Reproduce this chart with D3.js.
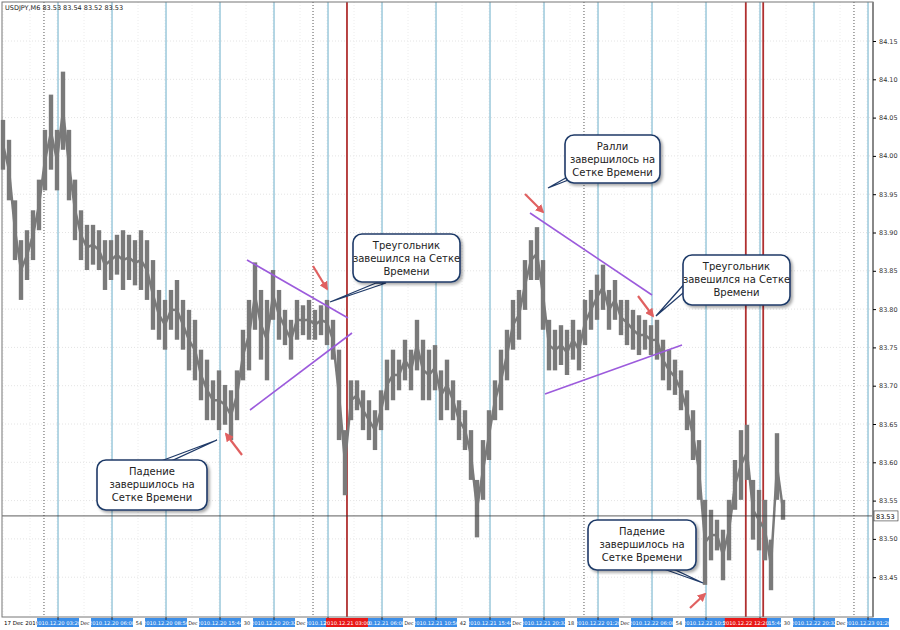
<!DOCTYPE html>
<html><head><meta charset="utf-8">
<script src="https://cdn.jsdelivr.net/npm/d3@7"></script>
<style>
body{margin:0;background:#fff;}
text{font-family:"DejaVu Sans",sans-serif;}
</style></head>
<body><svg id="chart" width="900" height="630"></svg>
<script>
// bar highs / lows, USDJPY M6
const highs = [84.047,84.021,83.942,83.890,83.903,83.929,83.969,84.034,84.080,84.034,84.110,84.034,83.969,83.929,83.910,83.910,83.903,83.890,83.890,83.897,83.903,83.897,83.890,83.903,83.890,83.864,83.825,83.812,83.825,83.838,83.812,83.799,83.786,83.747,83.734,83.707,83.720,83.701,83.694,83.720,83.773,83.812,83.861,83.825,83.812,83.851,83.825,83.799,83.786,83.812,83.805,83.812,83.799,83.805,83.812,83.786,83.747,83.642,83.707,83.707,83.694,83.681,83.668,83.694,83.734,83.747,83.734,83.760,83.747,83.786,83.760,83.747,83.753,83.720,83.734,83.707,83.681,83.668,83.642,83.577,83.629,83.668,83.707,83.747,83.773,83.812,83.825,83.864,83.890,83.907,83.864,83.786,83.773,83.779,83.773,83.786,83.773,83.812,83.825,83.845,83.858,83.825,83.838,83.812,83.812,83.799,83.792,83.786,83.779,83.786,83.760,83.747,83.734,83.720,83.694,83.668,83.629,83.551,83.538,83.525,83.512,83.551,83.603,83.642,83.649,83.577,83.564,83.551,83.499,83.638,83.551];
const lows  = [83.982,83.942,83.864,83.812,83.838,83.864,83.903,83.955,83.982,83.955,84.008,83.942,83.890,83.864,83.851,83.858,83.851,83.825,83.838,83.845,83.825,83.838,83.831,83.825,83.812,83.773,83.760,83.747,83.773,83.760,83.747,83.720,83.707,83.681,83.655,83.655,83.642,83.649,83.629,83.655,83.707,83.720,83.773,83.734,83.707,83.786,83.760,83.753,83.734,83.760,83.766,83.760,83.760,83.766,83.753,83.734,83.629,83.557,83.655,83.668,83.642,83.629,83.616,83.642,83.668,83.681,83.694,83.707,83.694,83.720,83.681,83.681,83.694,83.655,83.668,83.655,83.629,83.616,83.577,83.502,83.551,83.603,83.655,83.668,83.707,83.747,83.760,83.799,83.838,83.838,83.773,83.720,83.720,83.727,83.714,83.734,83.720,83.753,83.773,83.786,83.799,83.773,83.786,83.766,83.753,83.747,83.740,83.747,83.740,83.734,83.707,83.694,83.688,83.668,83.642,83.603,83.551,83.440,83.472,83.485,83.446,83.472,83.538,83.551,83.577,83.499,83.485,83.472,83.433,83.551,83.525];

const priceTicks = [84.15,84.10,84.05,84.00,83.95,83.90,83.85,83.80,83.75,83.70,83.65,83.60,83.55,83.50,83.45];
const timeLabels = ["2010.12.20 03:20","2010.12.20 06:08","2010.12.20 08:56","2010.12.20 15:44","2010.12.20 20:32",
  "2010.12.21 01:20","2010.12.21 06:08","2010.12.21 10:56","2010.12.21 15:44","2010.12.21 20:32",
  "2010.12.22 01:20","2010.12.22 06:08","2010.12.22 10:56","2010.12.22 15:44","2010.12.22 20:32","2010.12.23 01:20"];
const timeBars = [9.17,18.17,27.17,36.17,45.17,54.17,63.17,72.17,81.17,90.17,99.17,108.17,117.17,126.17,135.17,144.17];
const redBars = [57.33,123.8,126.7];
const redLabels = ["2010.12.21 03:00","2010.12.22 12:20"];
const daySepBars = [6.83,51.67,96.83,141.83];
const lastPrice = 83.53;

const callouts = [
  {lines:["Падение","завершилось на","Сетке Времени"], box:[97,460,110,50], tip:[[165,461],[217,440]]},
  {lines:["Треугольник","завешился на Сетке","Времени"], box:[353,234,107,48], tip:[[380,283],[330,302]]},
  {lines:["Ралли","завершилось на","Сетке Времени"], box:[565,135,95,48], tip:[[575,175],[548,188]]},
  {lines:["Треугольник","завешился на Сетке","Времени"], box:[683,255,107,50], tip:[[690,282],[656,316]]},
  {lines:["Падение","завершилось на","Сетке Времени"], box:[588,520,108,50], tip:[[665,568],[703,583]]}
];
// arrow: tail x,y then head x,y
const arrows = [[313,266,327,289],[242,455,226,434],[525,194,543,212],[638,296,653,316],[690,608,705,594]];
const trendLines = [[247,260,348,318],[250,410,352,333],[530,213,652,295],[545,394,682,345]];

const svg = d3.select("#chart");
const x = d3.scaleLinear().domain([0,145]).range([3,873]);
const y = d3.scaleLinear().domain([83.40,84.15]).range([615.5,41]);
const pLeft = 2, pRight = 873, pTop = 2, pBottom = 617;

// light dotted grid
svg.append("g").selectAll("line").data(priceTicks).join("line")
  .attr("x1",pLeft).attr("x2",pRight).attr("y1",d=>y(d)).attr("y2",d=>y(d))
  .attr("stroke","#e4e4e4").attr("stroke-dasharray","1,2");
svg.append("g").selectAll("line").data(d3.range(0,145,4.5)).join("line")
  .attr("x1",d=>x(d)).attr("x2",d=>x(d)).attr("y1",pTop).attr("y2",pBottom)
  .attr("stroke","#ececec").attr("stroke-dasharray","1,2");

// time grid lines
svg.append("g").selectAll("line").data(timeBars).join("line")
  .attr("x1",d=>x(d)).attr("x2",d=>x(d)).attr("y1",pTop).attr("y2",pBottom)
  .attr("stroke","#8cc0d6").attr("stroke-width",1.3);
svg.append("g").selectAll("line").data(daySepBars).join("line")
  .attr("x1",d=>x(d)).attr("x2",d=>x(d)).attr("y1",pTop).attr("y2",pBottom)
  .attr("stroke","#555").attr("stroke-dasharray","1,2");
svg.append("g").selectAll("line").data(redBars).join("line")
  .attr("x1",d=>x(d)).attr("x2",d=>x(d)).attr("y1",pTop).attr("y2",pBottom)
  .attr("stroke","#b03030").attr("stroke-width",1.8);

// price bars
const barGap = (d,i)=> i>0 ? Math.min(0, 0) : 0;
svg.append("g").selectAll("line").data(highs).join("line")
  .attr("x1",(d,i)=>x(i)).attr("x2",(d,i)=>x(i))
  .attr("y1",d=>y(d)).attr("y2",(d,i)=>y(lows[i]))
  .attr("stroke","#7a7a7a").attr("stroke-width",4.4);
// link neighbouring bars so the series reads continuously
svg.append("g").selectAll("line").data(highs.slice(1)).join("line")
  .attr("x1",(d,i)=>x(i)).attr("x2",(d,i)=>x(i+1))
  .attr("y1",(d,i)=>y((highs[i]+lows[i])/2)).attr("y2",(d,i)=>y((highs[i+1]+lows[i+1])/2))
  .attr("stroke","#7a7a7a").attr("stroke-width",2.5);

// last price line
svg.append("line").attr("x1",pLeft).attr("x2",pRight).attr("y1",y(lastPrice)).attr("y2",y(lastPrice))
  .attr("stroke","#333").attr("stroke-width",0.8);

// trend lines
svg.append("g").selectAll("line").data(trendLines).join("line")
  .attr("x1",d=>d[0]).attr("y1",d=>d[1]).attr("x2",d=>d[2]).attr("y2",d=>d[3])
  .attr("stroke","#9c5bdc").attr("stroke-width",1.6);

// red arrows
const defs = svg.append("defs");
defs.append("marker").attr("id","ah").attr("viewBox","0 0 10 10").attr("refX",8).attr("refY",5)
  .attr("markerWidth",4).attr("markerHeight",4).attr("orient","auto")
  .append("path").attr("d","M0,0L10,5L0,10z").attr("fill","#e06060");
defs.append("filter").attr("id","sh").append("feDropShadow")
  .attr("dx",2).attr("dy",2).attr("stdDeviation",1.5).attr("flood-color","#000").attr("flood-opacity",0.35);
svg.append("g").selectAll("line").data(arrows).join("line")
  .attr("x1",d=>d[0]).attr("y1",d=>d[1]).attr("x2",d=>d[2]).attr("y2",d=>d[3])
  .attr("stroke","#e06060").attr("stroke-width",2.2).attr("marker-end","url(#ah)");

// callouts
const cg = svg.append("g").selectAll("g").data(callouts).join("g");
cg.append("path").attr("d",d=>{
  const [a,b]=d.tip;
  return `M${a[0]-4},${a[1]}L${b[0]},${b[1]}L${a[0]+6},${a[1]}z`;
}).attr("fill","#fff").attr("stroke","#1f3a68").attr("stroke-width",1.3);
cg.append("rect").attr("x",d=>d.box[0]).attr("y",d=>d.box[1]).attr("width",d=>d.box[2]).attr("height",d=>d.box[3])
  .attr("rx",9).attr("fill","#fff").attr("stroke","#1f3a68").attr("stroke-width",1.6).attr("filter","url(#sh)");
cg.each(function(d){
  const g = d3.select(this);
  d.lines.forEach((t,k)=>g.append("text").attr("x",d.box[0]+d.box[2]/2).attr("y",d.box[1]+15+k*13)
    .attr("text-anchor","middle").attr("font-size",10).attr("fill","#222").text(t));
});

// frame and right axis
svg.append("rect").attr("x",pLeft).attr("y",pTop).attr("width",pRight-pLeft).attr("height",pBottom-pTop)
  .attr("fill","none").attr("stroke","#777").attr("stroke-width",1);
svg.append("line").attr("x1",pRight).attr("x2",pRight).attr("y1",pTop).attr("y2",pBottom).attr("stroke","#888").attr("stroke-width",2);
const ya = svg.append("g").attr("transform",`translate(${pRight},0)`)
  .call(d3.axisRight(y).tickValues(priceTicks).tickFormat(d3.format(".2f")).tickSize(3));
ya.select(".domain").remove();
ya.selectAll("text").attr("font-size",6.5).attr("fill","#333");
svg.append("rect").attr("x",pRight+1).attr("y",y(lastPrice)-5).attr("width",24).attr("height",10).attr("fill","#fff").attr("stroke","#333").attr("stroke-width",0.6);
svg.append("text").attr("x",pRight+3).attr("y",y(lastPrice)+3).attr("font-size",6.5).text("83.53");

// bottom axis
svg.append("text").attr("x",4).attr("y",625).attr("font-size",5.5).text("17 Dec 2010");
const underTicks = ["Dec","54","Dec","30","Dec","06","Dec","42","Dec","18","Dec","54","Dec","30","Dec"];
svg.append("g").selectAll("text").data(underTicks).join("text")
  .attr("x",(d,i)=>x(timeBars[i]+4.5)).attr("text-anchor","middle").attr("y",625).attr("font-size",5).attr("fill","#222").text(d=>d);
const tl = svg.append("g").selectAll("g").data(timeLabels).join("g")
  .attr("transform",(d,i)=>`translate(${x(timeBars[i])},618)`);
tl.append("rect").attr("x",-21).attr("y",0).attr("width",42).attr("height",9).attr("fill","#3b8ee8");
tl.append("text").attr("text-anchor","middle").attr("y",6.8).attr("font-size",5.2).attr("fill","#fff").text(d=>d);
svg.append("g").selectAll("line").data(timeBars).join("line")
  .attr("x1",d=>x(d)).attr("x2",d=>x(d)).attr("y1",pBottom).attr("y2",pBottom+3).attr("stroke","#333");
const rl = svg.append("g").selectAll("g").data(redLabels).join("g")
  .attr("transform",(d,i)=>`translate(${x(redBars[i])},618)`);
rl.append("rect").attr("x",-21).attr("y",0).attr("width",42).attr("height",9).attr("fill","#e81818");
rl.append("text").attr("text-anchor","middle").attr("y",6.8).attr("font-size",5.2).attr("fill","#fff").text(d=>d);

// header
svg.append("text").attr("x",5).attr("y",10).attr("font-size",6.5).attr("fill","#222")
  .text("USDJPY,M6  83.53 83.54 83.52 83.53");
</script></body></html>
